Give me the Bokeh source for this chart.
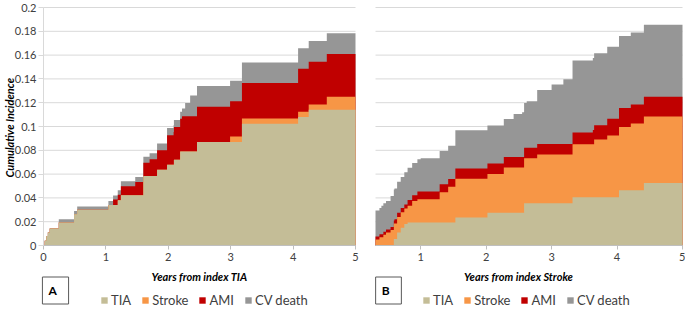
import numpy as np
from bokeh.plotting import figure
from bokeh.layouts import row
from bokeh.models import Label, Legend, LegendItem, FixedTicker, Range1d
from bokeh.embed import file_html
from bokeh.resources import INLINE

# ---------------- data (cumulative incidence per endpoint, step functions) ----------------
series_names = ["TIA", "Stroke", "AMI", "CV death"]
series_colors = ["#C4BD97", "#F79646", "#C00000", "#969696"]

# Panel A: years from index TIA
a_tia_t = [0.00, 0.02, 0.045, 0.07, 0.10, 0.245, 0.49, 0.54, 1.04, 1.19, 1.24, 1.60, 1.82, 1.98, 2.09, 2.19, 2.46, 3.18, 4.08, 4.25]
a_tia_v = [0.000, 0.004, 0.008, 0.011, 0.0142, 0.0194, 0.0263, 0.0300, 0.0340, 0.0380, 0.0423, 0.0585, 0.0636, 0.0678, 0.0720, 0.0790, 0.0870, 0.1023, 0.1080, 0.1140]
a_stroke_t = [0.00, 2.99, 4.54]
a_stroke_v = [0.000, 0.0045, 0.0110]
a_ami_t = [0.00, 1.115, 1.24, 1.47, 1.70, 1.82, 1.98, 2.085, 2.22, 4.08]
a_ami_v = [0.000, 0.0047, 0.0075, 0.0110, 0.0140, 0.0164, 0.0249, 0.0275, 0.0297, 0.0360]
a_cvd_t = [0.00, 0.245, 1.04, 1.19, 1.24, 1.60, 1.82, 1.98, 2.22, 2.27, 2.35]
a_cvd_v = [0.000, 0.0027, 0.0033, 0.0038, 0.0042, 0.0050, 0.0057, 0.0060, 0.0065, 0.0110, 0.0173]

# Panel B: years from index Stroke
b_tia_t = [0.31, 0.59, 0.64, 0.695, 0.75, 0.80, 1.53, 2.02, 2.58, 3.32, 4.03, 4.41]
b_tia_v = [0.000, 0.0055, 0.0110, 0.0150, 0.0180, 0.0193, 0.0235, 0.0276, 0.0354, 0.0405, 0.0465, 0.0525]
b_stroke_t = [0.31, 0.37, 0.43, 0.47, 0.54, 0.80, 0.87, 0.95, 1.29, 1.42, 1.53, 2.27, 2.78, 3.32, 3.65, 3.85, 4.03, 4.21]
b_stroke_v = [0.005, 0.007, 0.009, 0.011, 0.013, 0.014, 0.018, 0.0195, 0.0255, 0.030, 0.0325, 0.038, 0.041, 0.0445, 0.0485, 0.052, 0.053, 0.056]
b_ami_t = [0.31, 0.60, 0.80, 0.95, 1.53, 3.32, 3.63, 3.85, 4.03, 4.41]
b_ami_v = [0.0025, 0.0035, 0.0050, 0.0066, 0.0088, 0.0100, 0.0120, 0.0140, 0.0160, 0.0165]
b_cvd_t = [0.31, 0.40, 0.54, 0.75, 1.00, 1.53, 2.42, 2.55, 2.62, 2.78, 3.00, 3.18, 3.32]
b_cvd_v = [0.022, 0.024, 0.026, 0.027, 0.028, 0.032, 0.036, 0.0375, 0.039, 0.0455, 0.050, 0.0545, 0.0605]

y_ticks = [0, 0.02, 0.04, 0.06, 0.08, 0.1, 0.12, 0.14, 0.16, 0.18, 0.2]
y_tick_labels = ["0", "0.02", "0.04", "0.06", "0.08", "0.1", "0.12", "0.14", "0.16", "0.18", "0.2"]
a_x_ticks = [0, 1, 2, 3, 4, 5]
b_x_ticks = [1, 2, 3, 4, 5]
a_x_title = "Years from index TIA"
b_x_title = "Years from index Stroke"
y_title = "Cumulative  Incidence"

FONT = "Lato"
H = 310            # figure height (px)
PLOT_TOP = 7       # px from top where y = 0.2
PLOT_BOTTOM = 245  # px from top where y = 0
GRID_COLOR = "#D9D9D9"


def step_values(t, v, grid):
    t = np.asarray(t, dtype=float)
    v = np.asarray(v, dtype=float)
    idx = np.searchsorted(t, grid, side="right") - 1
    out = v[np.clip(idx, 0, None)]
    return np.where(idx >= 0, out, 0.0)


def make_panel(series, x0, x1, x_ticks, width, left_px, right_px, show_y, x_title,
               x_title_pos, letter, letter_pos, legend_pos):
    # ranges chosen so that the data area sits at the requested pixel box
    ppx = (width - left_px - right_px) / (x1 - x0)
    ppy = (PLOT_BOTTOM - PLOT_TOP) / (y_ticks[-1] - y_ticks[0])
    xr = Range1d(x0 - left_px / ppx, x1 + right_px / ppx)
    yr = Range1d(y_ticks[0] - (H - PLOT_BOTTOM) / ppy, y_ticks[-1] + PLOT_TOP / ppy)

    grid = np.unique(np.concatenate([np.asarray(t, float) for t, _ in series] + [np.array([x1])]))
    grid = grid[(grid >= x0) & (grid <= x1)]
    comps = np.array([step_values(t, v, grid) for t, v in series])
    cum = np.cumsum(comps, axis=0)

    p = figure(width=width, height=H, x_range=xr, y_range=yr,
               output_backend="svg", toolbar_location=None,
               min_border=0, min_border_left=0, min_border_right=0,
               min_border_top=0, min_border_bottom=0)
    p.outline_line_color = None
    p.background_fill_color = "white"
    p.border_fill_color = "white"
    p.xgrid.visible = False
    p.ygrid.visible = False

    # horizontal gridlines over the data span
    p.segment(x0=[x0] * len(y_ticks), x1=[x1] * len(y_ticks), y0=y_ticks, y1=y_ticks,
              line_color=GRID_COLOR, line_width=1)

    rends = {}
    for k in reversed(range(len(series))):
        rends[k] = p.varea_step(x=grid, y1=0, y2=cum[k], step_mode="after",
                                fill_color=series_colors[k], fill_alpha=1.0)

    # x axis at y = 0
    xa = p.xaxis[0]
    xa.fixed_location = 0
    xa.bounds = (x0, x1)
    xa.ticker = FixedTicker(ticks=x_ticks)
    xa.axis_line_color = "#BFBFBF"
    xa.major_tick_line_color = "#BFBFBF"
    xa.major_tick_out = 4
    xa.major_tick_in = 0
    xa.minor_tick_line_color = None
    xa.major_label_standoff = 3
    xa.major_label_text_font = FONT
    xa.major_label_text_font_size = "11px"
    xa.major_label_text_color = "#404040"

    ya = p.yaxis[0]
    if show_y:
        ya.fixed_location = x0
        ya.bounds = (y_ticks[0], y_ticks[-1])
        ya.ticker = FixedTicker(ticks=y_ticks)
        ya.major_label_overrides = {t: s for t, s in zip(y_ticks, y_tick_labels)}
        ya.axis_line_color = GRID_COLOR
        ya.major_tick_line_color = GRID_COLOR
        ya.major_tick_out = 5
        ya.major_tick_in = 0
        ya.minor_tick_line_color = None
        ya.major_label_standoff = 2
        ya.major_label_text_font = FONT
        ya.major_label_text_font_size = "11px"
        ya.major_label_text_color = "#404040"
        p.add_layout(Label(x=9, y=H - (PLOT_TOP + PLOT_BOTTOM) / 2, x_units="screen",
                           y_units="screen", text=y_title, angle=np.pi / 2,
                           text_align="center", text_baseline="middle",
                           text_font=FONT, text_font_style="bold italic",
                           text_font_size="11px", text_color="#000000"))
    else:
        ya.visible = False

    # x title
    p.add_layout(Label(x=x_title_pos[0], y=H - x_title_pos[1], x_units="screen", y_units="screen",
                       text=x_title, text_align="center", text_baseline="middle",
                       text_font=FONT, text_font_style="bold italic", text_font_size="11px",
                       text_color="#000000"))
    # panel letter in a box
    p.add_layout(Label(x=letter_pos[0], y=H - letter_pos[1], x_units="screen", y_units="screen",
                       text=" " + letter + " ", text_align="center",
                       text_baseline="middle", text_font=FONT, text_font_style="bold",
                       text_font_size="12px", text_color="#000000", padding=6,
                       border_line_color="#595959", border_line_width=1,
                       background_fill_color="white"))

    legend = Legend(items=[LegendItem(label=series_names[k], renderers=[rends[k]])
                           for k in range(len(series))],
                    location=(legend_pos[0], H - legend_pos[1]), orientation="horizontal",
                    glyph_width=8, glyph_height=8, label_height=14, label_standoff=3,
                    spacing=10, padding=0, margin=0, border_line_color=None,
                    background_fill_alpha=0, label_text_font=FONT,
                    label_text_font_size="13px", label_text_color="#404040")
    p.add_layout(legend)
    return p


pa = make_panel([(a_tia_t, a_tia_v), (a_stroke_t, a_stroke_v), (a_ami_t, a_ami_v), (a_cvd_t, a_cvd_v)],
                0, 5, a_x_ticks, 360, 43, 5, True, a_x_title, (199, 276), "A", (55, 290), (100, 308))
pb = make_panel([(b_tia_t, b_tia_v), (b_stroke_t, b_stroke_v), (b_ami_t, b_ami_v), (b_cvd_t, b_cvd_v)],
                0.31, 5, b_x_ticks, 325, 15, 3, False, b_x_title, (158, 276), "B", (28, 290), (62, 308))

layout = row(pa, pb)
open("out.html", "w").write(file_html(layout, INLINE))
